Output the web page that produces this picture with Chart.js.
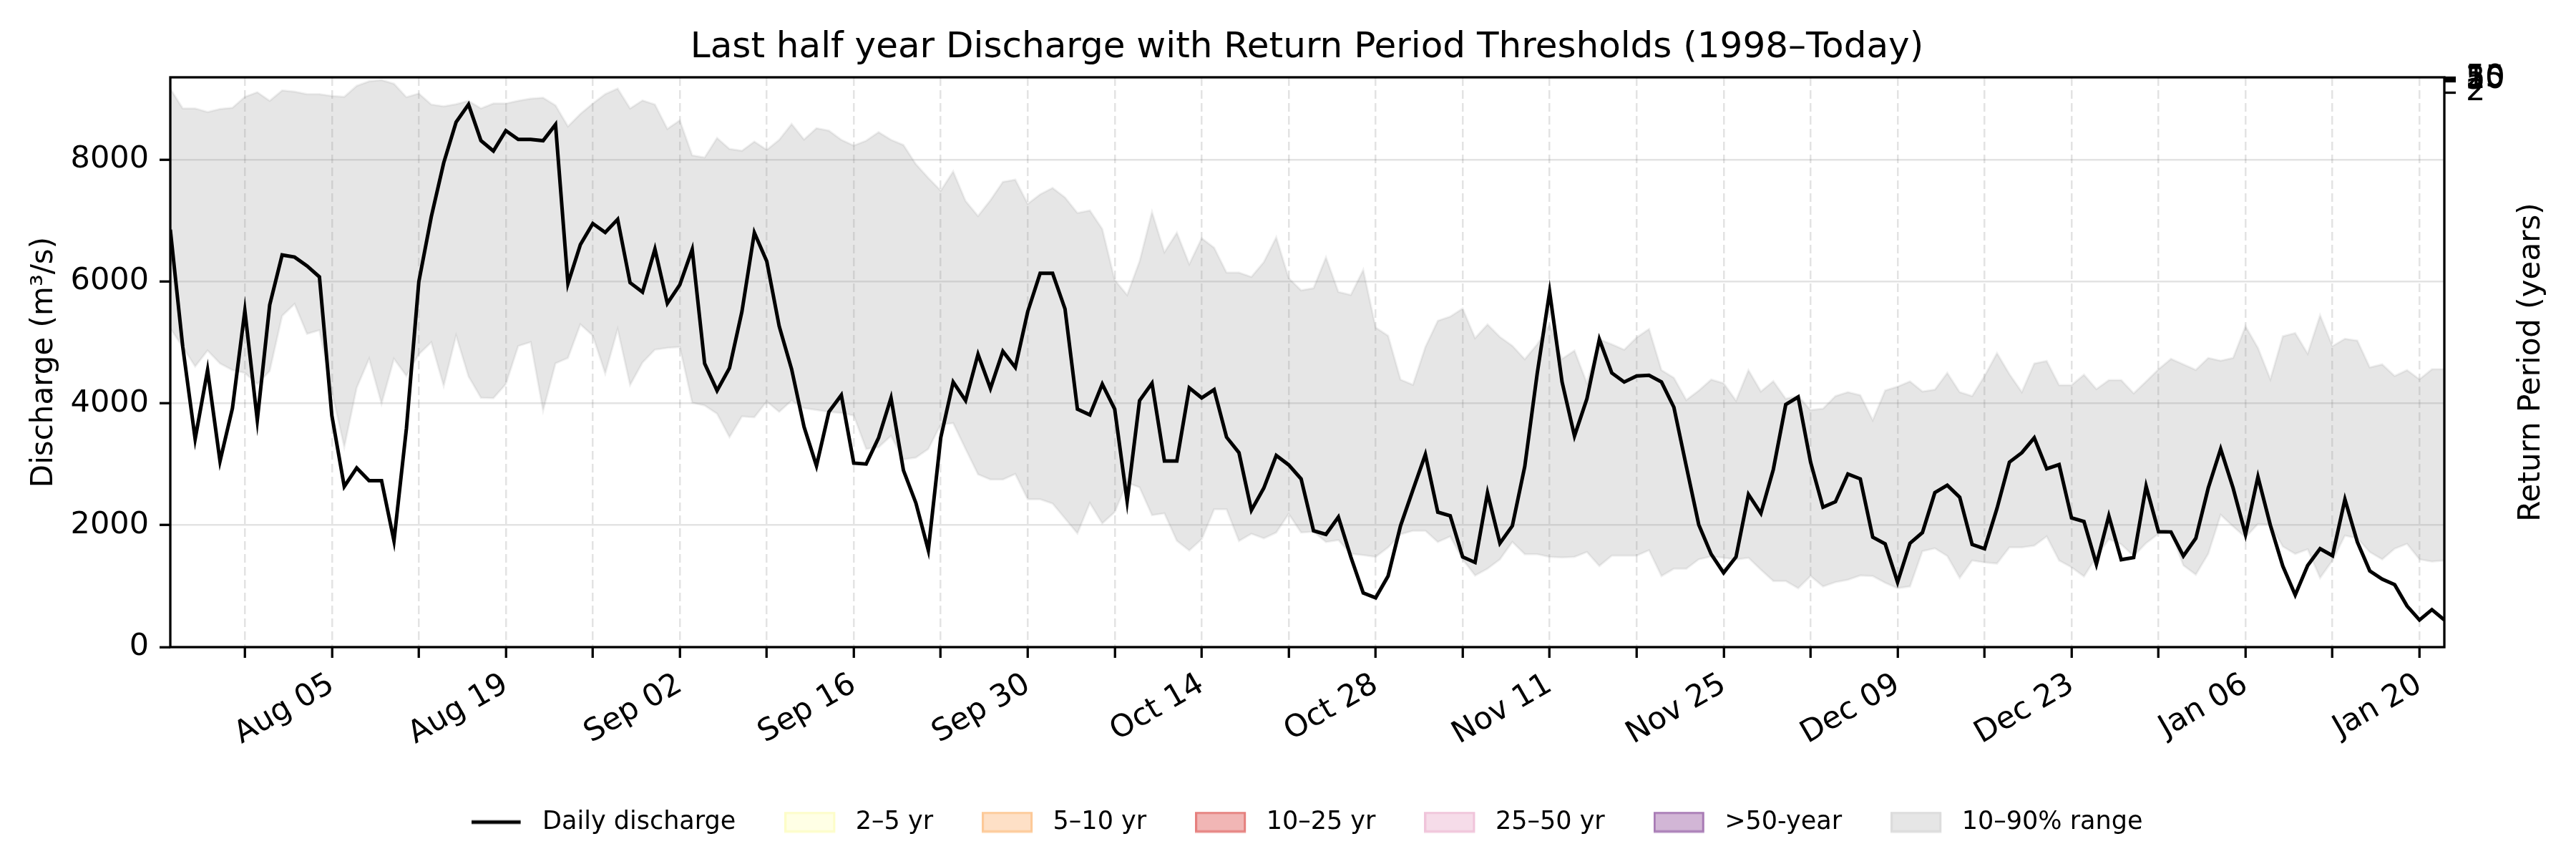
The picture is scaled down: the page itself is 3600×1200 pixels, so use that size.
<!DOCTYPE html>
<html>
<head>
<meta charset="utf-8">
<script src="https://cdn.jsdelivr.net/npm/chart.js@4.4.1/dist/chart.umd.min.js"></script>
<style>
html,body{margin:0;padding:0;background:#ffffff;}
#wrap{width:3600px;height:1200px;}
</style>
</head>
<body>
<div id="wrap"><canvas id="c" width="3600" height="1200"></canvas></div>
<script>
// ---------------- DATA ----------------
const startDate = '2024-07-23';
const discharge = [
6850,4930,3415,4545,3050,3920,5520,3725,5615,6435,6400,6255,6075,3800,2635,2940,2730,2730,1745,3585,
5995,7060,7945,8615,8905,8310,8140,8475,8330,8330,8310,8575,5965,6605,6950,6805,7020,5980,5825,6530,
5640,5945,6525,4655,4210,4580,5505,6800,6330,5265,4560,3615,2975,3860,4135,3020,3005,3435,4090,2900,
2365,1590,3435,4350,4045,4805,4245,4855,4590,5505,6135,6135,5550,3905,3810,4315,3905,2395,4045,4330,
3055,3055,4255,4090,4225,3445,3190,2245,2610,3145,2990,2760,1910,1850,2135,1480,890,810,1165,1990,
2580,3160,2215,2155,1480,1390,2530,1705,1990,2965,4490,5830,4350,3465,4075,5050,4500,4350,4450,4460,
4350,3935,2965,2010,1525,1220,1480,2505,2195,2915,3980,4105,3035,2295,2385,2840,2760,1805,1695,1065,
1705,1880,2535,2655,2460,1685,1615,2275,3035,3190,3435,2925,2995,2120,2060,1360,2155,1435,1470,2640,
1895,1890,1495,1785,2610,3250,2610,1850,2795,2000,1330,855,1340,1615,1500,2425,1725,1250,1115,1025,
675,445,615,445
];
const p90 = [
9165,8840,8840,8780,8830,8850,9030,9105,8965,9135,9115,9075,9075,9045,9030,9210,9285,9305,9245,9025,
9085,8905,8875,8910,8965,8840,8920,8920,8965,9000,9015,8890,8545,8750,8920,9075,9165,8840,8970,8905,
8505,8645,8070,8035,8355,8175,8145,8295,8160,8325,8585,8330,8515,8475,8325,8230,8310,8450,8325,8240,
7925,7700,7490,7805,7320,7075,7335,7635,7670,7275,7430,7535,7380,7125,7165,6860,6025,5780,6330,7140,
6480,6800,6285,6710,6555,6145,6145,6075,6320,6725,6055,5855,5890,6395,5830,5780,6190,5245,5110,4390,
4305,4925,5355,5425,5555,5070,5295,5090,4945,4725,4970,5295,4730,4865,4330,5050,4970,4880,5080,5220,
4545,4420,4055,4210,4390,4330,4045,4545,4195,4365,4075,4120,3890,3915,4120,4185,4135,3725,4210,4275,
4360,4195,4225,4500,4185,4120,4450,4825,4480,4185,4655,4695,4300,4300,4470,4235,4380,4380,4165,4360,
4560,4730,4640,4550,4745,4700,4745,5265,4910,4395,5100,5155,4815,5445,4940,5060,5030,4590,4640,4450,
4545,4395,4560,4560
];
const p10 = [
5230,4925,4605,4865,4655,4545,4500,4315,4530,5435,5630,5140,5200,4195,3280,4255,4730,3995,4730,4450,
4805,5000,4285,5110,4440,4090,4085,4315,4940,5005,3880,4655,4745,5295,5110,4490,5215,4300,4670,4880,
4910,4925,4010,3965,3830,3445,3785,3770,4030,3860,4045,3920,3890,3860,3840,3800,3250,3280,3465,3080,
3110,3250,3650,3675,3250,2835,2750,2750,2840,2425,2425,2355,2110,1865,2365,2030,2215,2700,2620,2165,
2195,1745,1585,1770,2260,2260,1740,1860,1785,1880,2185,1880,1895,1725,1755,1530,1510,1480,1635,1850,
1910,1910,1725,1815,1440,1175,1285,1440,1725,1525,1525,1480,1470,1480,1560,1330,1500,1500,1500,1590,
1165,1285,1285,1440,1485,1465,1435,1465,1270,1085,1085,965,1165,995,1065,1105,1175,1165,1055,965,
995,1575,1620,1495,1135,1420,1390,1370,1635,1635,1665,1815,1420,1310,1160,1480,1770,1685,1495,1705,
1860,1880,1340,1190,1530,2170,1980,1800,2020,2010,1650,1530,1605,1135,1420,1830,1785,1560,1440,1615,
1695,1440,1405,1420
];
const tickLabels = ['Aug 05','Aug 19','Sep 02','Sep 16','Sep 30','Oct 14','Oct 28','Nov 11','Nov 25','Dec 09','Dec 23','Jan 06','Jan 20'];
const yTicks = [0, 2000, 4000, 6000, 8000];
const returnPeriods = [2, 5, 10, 25, 50];
const thresholds = [9100, 9290, 9310, 9325, 9340];
const bandNames = ['2–5 yr', '5–10 yr', '10–25 yr', '25–50 yr', '>50-year'];
const bandFills = ['#ffffe5', '#fee0c6', '#f1b6b5', '#f6dce9', '#d2b6d6'];
const bandStrokes = ['#fdfdc8', '#fdc997', '#e5807e', '#f0c4da', '#a87bb5'];
const yMax = 9350;

const titleText = 'Last half year Discharge with Return Period Thresholds (1998–Today)';
const leftTitle = 'Discharge (m³/s)';
const rightTitle = 'Return Period (years)';

// ---------------- HELPERS ----------------
const MONTHS = ['Jan','Feb','Mar','Apr','May','Jun','Jul','Aug','Sep','Oct','Nov','Dec'];
const t0 = Date.parse(startDate + 'T00:00:00Z');
const dates = discharge.map((_, i) => new Date(t0 + i * 86400000));
const fmt = d => MONTHS[d.getUTCMonth()] + ' ' + String(d.getUTCDate()).padStart(2, '0');
const weekTicks = dates.map((d, i) => d.getUTCDay() === 1 ? i : -1).filter(i => i >= 0);
const pts = arr => arr.map((v, i) => ({x: i, y: v}));
const FONT = 'DejaVu Sans';

// legend handle images (handle on the left, transparent gap on the right)
const HANDLE_W = 82, HANDLE_H = 30;
function handleImage(kind, fill, stroke, lw) {
  const c = document.createElement('canvas');
  c.width = HANDLE_W; c.height = HANDLE_H;
  const g = c.getContext('2d');
  if (kind === 'line') {
    g.strokeStyle = stroke; g.lineWidth = lw;
    g.beginPath(); g.moveTo(0, HANDLE_H / 2); g.lineTo(69, HANDLE_H / 2); g.stroke();
  } else {
    g.fillStyle = fill; g.fillRect(1.5, 2, 68, 26);
    g.strokeStyle = stroke; g.lineWidth = lw; g.strokeRect(1.5, 2, 68, 26);
  }
  return c;
}

const datasets = [
  {label: 'Daily discharge', data: pts(discharge), borderColor: '#000', borderWidth: 5,
   pointRadius: 0, fill: false, tension: 0, yAxisID: 'y',
   legendStyle: {kind: 'line', fill: '#000', stroke: '#000', lineWidth: 5}}
];
bandNames.forEach((n, i) => datasets.push({
  label: n, data: [], backgroundColor: bandFills[i], borderColor: bandStrokes[i], yAxisID: 'y',
  pointRadius: 0, legendStyle: {kind: 'rect', fill: bandFills[i], stroke: bandStrokes[i], lineWidth: 3}
}));
datasets.push({
  label: '10–90% range', data: pts(p90), borderColor: 'rgba(128,128,128,0.12)', borderWidth: 3,
  backgroundColor: 'rgba(128,128,128,0.2)', fill: '+1', pointRadius: 0, tension: 0, yAxisID: 'y',
  legendStyle: {kind: 'rect', fill: '#e6e6e6', stroke: '#dcdcdc', lineWidth: 3}
});
datasets.push({
  label: '10–90% lower', data: pts(p10), borderColor: 'rgba(128,128,128,0.12)', borderWidth: 3,
  fill: false, pointRadius: 0, tension: 0, yAxisID: 'y', legendStyle: null
});

const framePlugin = {
  id: 'frame',
  afterDatasetsDraw(chart) {
    const {ctx, chartArea: a} = chart;
    ctx.save();
    ctx.strokeStyle = '#000';
    ctx.lineWidth = 3.3;
    ctx.strokeRect(a.left, a.top, a.right - a.left, a.bottom - a.top);
    ctx.restore();
  }
};
const rightTitlePlugin = {
  id: 'rightTitle',
  afterDraw(chart) {
    const {ctx, chartArea: a} = chart;
    const s = chart.scales.y2;
    ctx.save();
    ctx.font = '42px "' + FONT + '"';
    ctx.fillStyle = '#000';
    ctx.textAlign = 'center';
    ctx.textBaseline = 'middle';
    ctx.translate(s.right - 62, (a.top + a.bottom) / 2);
    ctx.rotate(-Math.PI / 2);
    ctx.fillText(rightTitle, 0, 0);
    ctx.restore();
  }
};

new Chart(document.getElementById('c'), {
  type: 'line',
  data: {datasets},
  plugins: [framePlugin, rightTitlePlugin],
  options: {
    responsive: false,
    animation: false,
    devicePixelRatio: 1,
    layout: {padding: {left: 53, right: 0, top: 0, bottom: 24}},
    plugins: {
      tooltip: {enabled: false},
      title: {
        display: true, text: titleText, color: '#000',
        font: {family: FONT, size: 50, weight: 'normal'},
        padding: {top: 37, bottom: 11}
      },
      legend: {
        position: 'bottom',
        labels: {
          color: '#000',
          font: {family: FONT, size: 35},
          usePointStyle: true,
          pointStyleWidth: HANDLE_W,
          boxHeight: 23,
          padding: 68,
          generateLabels(chart) {
            return chart.data.datasets.map((ds, i) => ds.legendStyle ? {
              text: ds.label, fillStyle: ds.legendStyle.fill, strokeStyle: ds.legendStyle.stroke,
              lineWidth: ds.legendStyle.lineWidth,
              pointStyle: handleImage(ds.legendStyle.kind, ds.legendStyle.fill, ds.legendStyle.stroke, ds.legendStyle.lineWidth),
              hidden: false, datasetIndex: i, fontColor: '#000'
            } : null).filter(x => x);
          }
        }
      }
    },
    scales: {
      x: {
        type: 'linear', min: 0, max: discharge.length - 1,
        afterBuildTicks: s => { s.ticks = weekTicks.map(v => ({value: v})); },
        afterFit: s => { s.height = 159; },
        ticks: {
          autoSkip: false, minRotation: 30, maxRotation: 30, padding: 12, color: '#000',
          font: {family: FONT, size: 43},
          callback: v => { const l = fmt(dates[v]); return tickLabels.includes(l) ? l : ''; }
        },
        grid: {color: 'rgba(0,0,0,0.11)', lineWidth: 2.5, tickColor: '#000', tickLength: 15,
               tickWidth: 3.3, tickBorderDash: []},
        border: {display: false, dash: [12, 6]}
      },
      y: {
        type: 'linear', position: 'left', min: 0, max: yMax,
        afterBuildTicks: s => { s.ticks = yTicks.map(v => ({value: v})); },
        afterFit: s => { s.width = 185; },
        ticks: {autoSkip: false, padding: 15, color: '#000', font: {family: FONT, size: 43},
                callback: v => String(v)},
        grid: {color: 'rgba(0,0,0,0.11)', lineWidth: 2.5, tickColor: '#000', tickLength: 15, tickWidth: 3.3},
        border: {display: false},
        title: {display: true, text: leftTitle, color: '#000', font: {family: FONT, size: 42},
                padding: {top: -16, bottom: 4}}
      },
      y2: {
        type: 'linear', position: 'right', min: 0, max: yMax,
        afterBuildTicks: s => { s.ticks = thresholds.map(v => ({value: v})); },
        afterFit: s => { s.width = 184; },
        ticks: {autoSkip: false, padding: 14, color: '#000', font: {family: FONT, size: 43},
                callback: (v, i) => String(returnPeriods[i])},
        grid: {drawOnChartArea: false, tickColor: '#000', tickLength: 16, tickWidth: 3.3},
        border: {display: false},
        title: {display: false, text: rightTitle}
      }
    }
  }
});
</script>
</body>
</html>
